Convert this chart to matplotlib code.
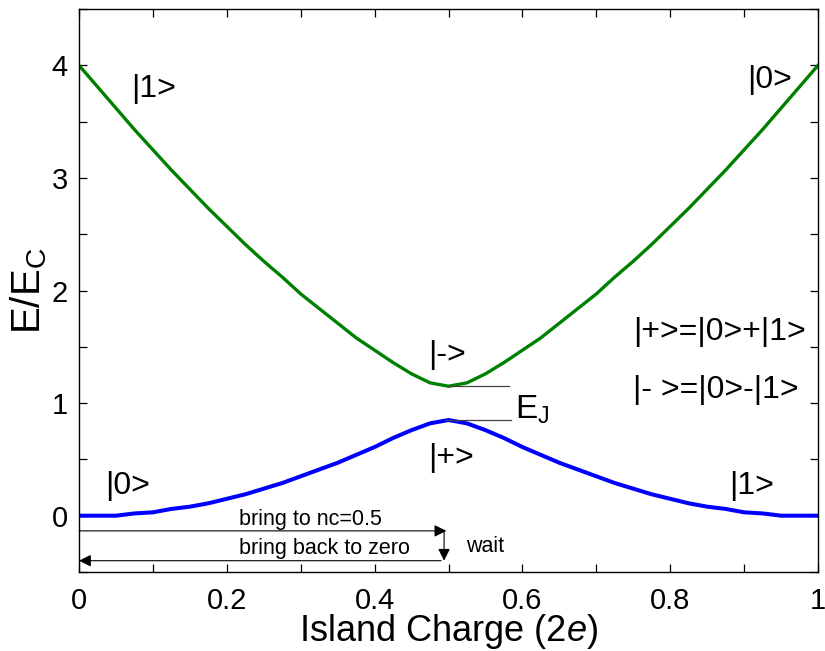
import matplotlib
matplotlib.use("Agg")
import matplotlib.pyplot as plt
from matplotlib.ticker import MultipleLocator

plt.rcParams['font.family'] = ['Liberation Sans', 'DejaVu Sans']
plt.rcParams['mathtext.fontset'] = 'custom'
plt.rcParams['mathtext.rm'] = 'Liberation Sans'
plt.rcParams['mathtext.it'] = 'Liberation Sans:italic'
plt.rcParams['mathtext.default'] = 'regular'

# island charge (units of 2e)
charge = [0.0, 0.025, 0.05, 0.075, 0.1, 0.125, 0.15, 0.175, 0.2, 0.225, 0.25,
          0.275, 0.3, 0.325, 0.35, 0.375, 0.4, 0.425, 0.45, 0.475, 0.5,
          0.525, 0.55, 0.575, 0.6, 0.625, 0.65, 0.675, 0.7, 0.725, 0.75,
          0.775, 0.8, 0.825, 0.85, 0.875, 0.9, 0.925, 0.95, 0.975, 1.0]

# upper band |->
upper = [4.00, 3.81, 3.62, 3.43, 3.25, 3.07, 2.90, 2.73, 2.57, 2.41, 2.26,
         2.12, 1.97, 1.84, 1.71, 1.58, 1.47, 1.36, 1.26, 1.18, 1.15,
         1.18, 1.26, 1.36, 1.47, 1.58, 1.71, 1.84, 1.97, 2.12, 2.26,
         2.41, 2.57, 2.73, 2.90, 3.07, 3.25, 3.43, 3.62, 3.81, 4.00]

# lower band |+>
lower = [0.00, 0.00, 0.00, 0.02, 0.03, 0.06, 0.08, 0.11, 0.15, 0.19, 0.24,
         0.29, 0.35, 0.41, 0.47, 0.54, 0.61, 0.69, 0.76, 0.82, 0.85,
         0.82, 0.76, 0.69, 0.61, 0.54, 0.47, 0.41, 0.35, 0.29, 0.24,
         0.19, 0.15, 0.11, 0.08, 0.06, 0.03, 0.02, 0.00, 0.00, 0.00]

ej_top = 1.15
ej_bottom = 0.85

fig = plt.figure(figsize=(8.25, 6.51), dpi=100)
ax = fig.add_axes([0.0958, 0.1214, 0.8957, 0.8646])

ax.plot(charge, upper, color='#008000', lw=2.4)
ax.plot(charge, lower, color='#0000ff', lw=2.9)

# E_J gap markers
ax.plot([0.50, 0.582], [ej_top, ej_top], color='#444444', lw=0.9)
ax.plot([0.495, 0.585], [ej_bottom, ej_bottom], color='#444444', lw=0.9)
ax.text(0.590, 0.94, 'E$_J$', fontsize=24, va='center', ha='left')

# state labels
fs = 23
ax.text(0.070, 3.79, '|1>', fontsize=fs, va='center')
ax.text(0.904, 3.87, '|0>', fontsize=fs, va='center')
ax.text(0.472, 1.43, '|->', fontsize=fs, va='center')
ax.text(0.472, 0.51, '|+>', fontsize=fs, va='center')
ax.text(0.035, 0.26, '|0>', fontsize=fs, va='center')
ax.text(0.880, 0.26, '|1>', fontsize=fs, va='center')
ax.text(0.750, 1.63, '|+>=|0>+|1>', fontsize=fs, va='center')
ax.text(0.750, 1.12, '|- >=|0>-|1>', fontsize=fs, va='center')

# sweep protocol arrows
arrow = dict(arrowstyle='-|>', color='black', lw=0.8, mutation_scale=18,
             shrinkA=0, shrinkB=0)
ax.annotate('', xy=(0.497, -0.135), xytext=(0.0, -0.135), arrowprops=arrow)
ax.annotate('', xy=(0.494, -0.40), xytext=(0.494, -0.135), arrowprops=arrow)
ax.annotate('', xy=(0.0, -0.40), xytext=(0.490, -0.40), arrowprops=arrow)
ax.text(0.217, -0.03, 'bring to nc=0.5', fontsize=15.5, ha='left', va='center')
ax.text(0.217, -0.29, 'bring back to zero', fontsize=15.5, ha='left', va='center')
ax.text(0.524, -0.27, 'wait', fontsize=15.5, ha='left', va='center')

ax.set_xlim(0, 1)
ax.set_ylim(-0.5, 4.5)
ax.xaxis.set_minor_locator(MultipleLocator(0.1))
ax.yaxis.set_major_locator(MultipleLocator(1))
ax.yaxis.set_minor_locator(MultipleLocator(0.5))
ax.set_xticks([0, 0.2, 0.4, 0.6, 0.8, 1.0])
ax.set_xticklabels(['0', '0.2', '0.4', '0.6', '0.8', '1'])
ax.tick_params(which='both', direction='in', top=True, right=True,
               length=6, width=0.9)
ax.tick_params(axis='x', which='both', labelsize=21, pad=11)
ax.tick_params(axis='y', which='both', labelsize=21, pad=8)
for s in ax.spines.values():
    s.set_linewidth(1.0)

ax.set_xlabel('Island Charge (2$\\mathit{e}$)', fontsize=26, labelpad=-2)
ax.set_ylabel('E/E$_C$', fontsize=29, labelpad=2)

fig.savefig('out.png', dpi=100)
